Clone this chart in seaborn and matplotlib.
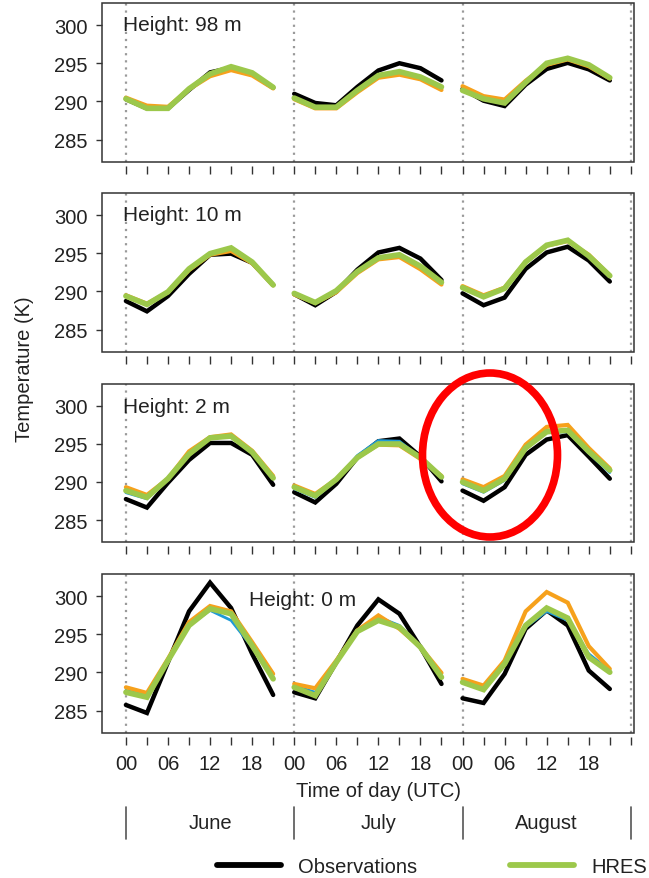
import numpy as np
import pandas as pd
import matplotlib
matplotlib.use("Agg")
import matplotlib.pyplot as plt
import matplotlib.transforms as mtransforms
from matplotlib.patches import Ellipse, Rectangle
from matplotlib.lines import Line2D
import seaborn as sns

# ---------------- data ----------------
hours = [0, 3, 6, 9, 12, 15, 18, 21]
months = ["June", "July", "August"]
tick_hour_labels = ["00", "06", "12", "18"]
heights = ["Height: 98 m", "Height: 10 m", "Height: 2 m", "Height: 0 m"]
yticks = [285, 290, 295, 300]

# 98 m  (June | July | August, 3-hourly)
obs_98 = [290.3, 289.1, 289.1, 291.5, 293.8, 294.4, 293.6, 291.8,
          291.0, 289.8, 289.5, 291.9, 294.05, 295.0, 294.35, 292.75,
          291.65, 290.1, 289.4, 292.2, 294.25, 295.05, 294.2, 292.75]
hres_98 = [290.35, 289.1, 289.1, 291.65, 293.6, 294.55, 293.75, 291.85,
           290.45, 289.25, 289.25, 291.45, 293.4, 293.9, 293.2, 291.9,
           291.45, 290.35, 289.8, 292.5, 295.0, 295.65, 294.8, 293.1]
orange_98 = [290.5, 289.45, 289.3, 291.6, 293.3, 294.1, 293.4, 291.7,
             290.3, 289.1, 289.1, 291.2, 293.1, 293.5, 292.9, 291.5,
             292.0, 290.7, 290.25, 292.7, 294.8, 295.5, 294.6, 293.0]

# 10 m
obs_10 = [288.75, 287.4, 289.4, 292.3, 294.8, 294.95, 293.75, 290.85,
          289.65, 288.2, 289.95, 292.85, 295.1, 295.7, 294.3, 291.5,
          289.75, 288.2, 289.2, 292.95, 295.1, 295.85, 294.05, 291.3]
hres_10 = [289.4, 288.3, 289.95, 292.95, 294.95, 295.7, 293.85, 290.85,
           289.75, 288.55, 290.1, 292.6, 294.4, 294.8, 293.3, 291.2,
           290.5, 289.3, 290.4, 293.85, 296.05, 296.7, 294.65, 292.05]
orange_10 = [289.5, 288.4, 289.9, 292.8, 294.8, 295.3, 293.7, 290.8,
             289.6, 288.5, 289.9, 292.4, 294.2, 294.5, 292.9, 290.9,
             290.7, 289.5, 290.5, 293.9, 296.0, 296.6, 294.8, 292.1]

# 2 m
obs_2 = [287.76, 286.65, 289.9, 292.88, 295.1, 295.1, 293.55, 289.63,
         288.65, 287.32, 289.76, 293.19, 295.33, 295.68, 293.32, 290.08,
         288.87, 287.54, 289.32, 293.55, 295.55, 296.13, 293.32, 290.43]
hres_2 = [288.87, 287.98, 290.43, 293.64, 295.77, 296.0, 293.9, 290.52,
          289.32, 288.2, 290.34, 293.19, 294.97, 294.97, 293.19, 290.65,
          289.99, 288.87, 290.43, 294.44, 296.57, 296.75, 293.99, 291.54]
orange_2 = [289.32, 288.3, 290.43, 294.0, 295.86, 296.22, 294.08, 290.79,
            289.54, 288.43, 290.34, 293.19, 294.88, 294.79, 293.01, 290.79,
            290.34, 289.32, 290.79, 294.88, 297.2, 297.46, 294.44, 291.77]
blue_2 = [288.6, 287.8, 290.3, 293.6, 295.8, 295.9, 293.8, 290.4,
          289.1, 287.98, 290.21, 293.46, 295.42, 295.33, 293.19, 290.52,
          289.76, 288.65, 290.21, 294.35, 296.44, 296.57, 293.77, 291.23]

# 0 m
obs_0 = [285.75, 284.7, 291.34, 297.99, 301.75, 298.43, 292.44, 287.06,
         287.41, 286.62, 291.34, 296.15, 299.56, 297.68, 293.31, 288.5,
         286.62, 286.01, 289.81, 295.71, 298.12, 296.15, 290.25, 287.84]
hres_0 = [287.41, 286.76, 291.56, 296.15, 298.34, 297.68, 293.53, 289.16,
          288.06, 286.97, 291.34, 295.37, 296.81, 295.93, 293.31, 289.37,
          288.72, 287.76, 291.12, 296.15, 298.43, 297.11, 292.0, 290.03]
orange_0 = [288.06, 287.32, 291.78, 296.59, 298.69, 297.99, 293.97, 289.81,
            288.5, 287.93, 291.56, 295.5, 297.46, 295.71, 293.31, 289.94,
            289.16, 288.28, 291.56, 297.99, 300.52, 299.13, 293.44, 290.47]
blue_0 = [287.63, 286.97, 291.56, 296.15, 298.12, 296.81, 293.31, 289.37,
          288.28, 287.41, 291.34, 295.5, 297.25, 296.15, 293.44, 289.59,
          288.94, 288.06, 291.12, 295.93, 297.99, 296.81, 292.44, 290.25]

series_order = ["Observations", "Model B", "Model A", "HRES"]   # drawing order
colors = {"Observations": "#000000", "HRES": "#9CC84B",
          "Model A": "#F6A11C", "Model B": "#1E9AD6"}
widths = {"Observations": 3.2, "HRES": 4.0, "Model A": 3.0, "Model B": 2.0}

panel_data = {
    heights[0]: {"Observations": obs_98, "HRES": hres_98, "Model A": orange_98},
    heights[1]: {"Observations": obs_10, "HRES": hres_10, "Model A": orange_10},
    heights[2]: {"Observations": obs_2, "HRES": hres_2, "Model A": orange_2, "Model B": blue_2},
    heights[3]: {"Observations": obs_0, "HRES": hres_0, "Model A": orange_0, "Model B": blue_0},
}

rows = []
for h, sdict in panel_data.items():
    for s, vals in sdict.items():
        for mi, m in enumerate(months):
            for k, hr in enumerate(hours):
                rows.append(dict(height=h, series=s, month=m, hour=hr,
                                 x=mi * 24 + hr, temp=vals[mi * len(hours) + k]))
df = pd.DataFrame(rows)

# ---------------- figure ----------------
sns.set_style("white")
plt.rcParams["font.family"] = ["Liberation Sans", "DejaVu Sans"]
FS = 14.5
W, H = 649, 879
fig = plt.figure(figsize=(W / 100, H / 100), dpi=100)

left_px, right_px = 101.7, 634.0
tops_px = [4, 194, 384.5, 575]
ph = 158.7
label_pos = [(-0.45, 300.1), (-0.45, 300.1), (-0.45, 299.9), (17.6, 299.5)]
box_color = "#333333"

axes = []
for i, h in enumerate(heights):
    bottom = 1 - (tops_px[i] + ph) / H
    ax = fig.add_axes([left_px / W, bottom, (right_px - left_px) / W, ph / H])
    axes.append(ax)
    sub = df[df["height"] == h]
    for mb in [0, 24, 48, 72]:
        ax.axvline(mb, color="#9a9a9a", lw=1.6, ls=(0, (1, 2.2)), zorder=1)
    for s in series_order:
        ss = sub[sub["series"] == s]
        if ss.empty:
            continue
        sns.lineplot(data=ss, x="x", y="temp", units="month", estimator=None,
                     sort=False, color=colors[s], lw=widths[s], ax=ax,
                     legend=False, zorder=3, solid_joinstyle="miter")
    for sp in ax.spines.values():
        sp.set_visible(False)
    ax.spines["bottom"].set_position(("outward", 3))
    ax.set_xlim(-3.45, 72.45)
    ax.set_ylim(282.12, 302.88)
    ax.set_yticks(yticks)
    ax.set_yticklabels([str(t) for t in yticks])
    xt = list(range(0, 73, 3))
    ax.set_xticks(xt)
    if i == len(heights) - 1:
        labs = []
        for t in xt:
            if t % 6 == 0 and t < 72:
                labs.append(tick_hour_labels[(t % 24) // 6])
            else:
                labs.append("")
        ax.set_xticklabels(labs)
    else:
        ax.set_xticklabels([])
    ax.set_xlabel("")
    ax.set_ylabel("")
    ax.add_patch(Rectangle((0, 0), 1, 1, transform=ax.transAxes, fill=False,
                           ec=box_color, lw=1.1, zorder=5, clip_on=False))
    ax.tick_params(axis="x", direction="out", length=6, width=1.0,
                   color=box_color, pad=6, bottom=True, labelsize=FS,
                   labelcolor="#222222")
    ax.tick_params(axis="y", direction="out", length=4.3, width=1.0,
                   color=box_color, pad=6, left=True, labelsize=FS,
                   labelcolor="#222222")
    ax.grid(False)
    lx, ly = label_pos[i]
    ax.text(lx, ly, h, fontsize=15, ha="left", va="center", color="#222222", zorder=6)

ax4 = axes[-1]
trans = mtransforms.blended_transform_factory(ax4.transData, fig.transFigure)
ax4.text(36, 1 - 792 / H, "Time of day (UTC)", transform=trans, ha="center",
         va="center", fontsize=FS, color="#222222")
for mb in [0, 24, 48, 72]:
    ax4.plot([mb, mb], [1 - 808 / H, 1 - 840 / H], transform=trans,
             color="#555555", lw=1.2, clip_on=False)
for mi, m in enumerate(months):
    ax4.text(mi * 24 + 12, 1 - 824 / H, m, transform=trans, ha="center",
             va="center", fontsize=FS, color="#222222")

fig.text(25 / W, 1 - 369 / H, "Temperature (K)", rotation=90, ha="center",
         va="center", fontsize=FS, color="#222222")

handles = [Line2D([], [], color=colors["Observations"], lw=4.2),
           Line2D([], [], color=colors["HRES"], lw=4.2)]
leg = fig.legend(handles, ["Observations", "HRES"], loc="center left",
                 bbox_to_anchor=(216.7 / W, 1 - 868 / H), ncol=2, frameon=False,
                 borderpad=0, borderaxespad=0, handlelength=3.2, handletextpad=0.85,
                 columnspacing=4.6, fontsize=FS)
for t in leg.get_texts():
    t.set_color("#222222")

fig.add_artist(Ellipse((490 / W, 1 - 456 / H), width=135 / W, height=164 / H,
                       transform=fig.transFigure, fill=False, ec="#FF0000",
                       lw=5.5, zorder=10))

fig.savefig("out.png", dpi=100)
